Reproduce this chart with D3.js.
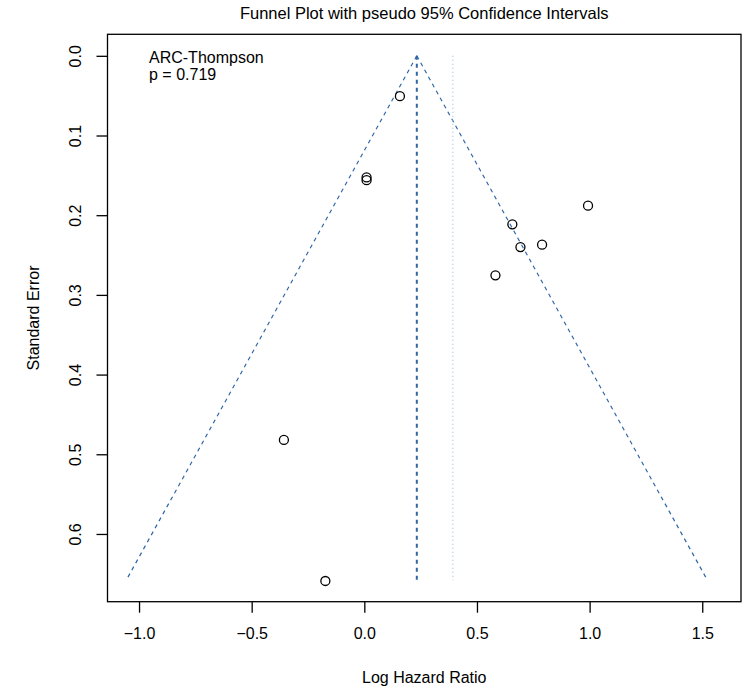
<!DOCTYPE html>
<html>
<head>
<meta charset="utf-8">
<script src="https://cdn.jsdelivr.net/npm/d3@7"></script>
<style>
  html, body { margin: 0; padding: 0; background: #fff; }
  svg { display: block; }
  text { font-family: "Liberation Sans", Arial, Helvetica, sans-serif; fill: #000; }
</style>
</head>
<body>
<svg id="chart" width="746" height="692"></svg>
<script>
// ---- data ----
const studyLogHR = [0.158, 0.010, 0.010, 0.993, 0.657, 0.693, 0.789, 0.582, -0.357, -0.173];
const studySE    = [0.0506, 0.1526, 0.156, 0.188, 0.2115, 0.240, 0.237, 0.2755, 0.482, 0.659];
const pooledEstimate = 0.233;   // centre of funnel
const referenceLine = 0.393;    // dotted line
const maxSE = 0.658;
const zCrit = 1.96;
const xTicks = [-1.0, -0.5, 0.0, 0.5, 1.0, 1.5];
const yTicks = [0.0, 0.1, 0.2, 0.3, 0.4, 0.5, 0.6];
const xLim = [-1.14, 1.672];
const yLim = [-0.027, 0.685];
const titleText = "Funnel Plot with pseudo 95% Confidence Intervals";
const xLabel = "Log Hazard Ratio";
const yLabel = "Standard Error";
const annotation = ["ARC-Thompson", "p = 0.719"];

// ---- layout ----
const svg = d3.select("#chart");
const L = 107.5, R = 741, T = 34.3, B = 601.7;
const x = d3.scaleLinear().domain(xLim).range([L, R]);
const y = d3.scaleLinear().domain(yLim).range([T, B]);
const blue = "#2f66a6";
const lightBlue = "#9dbfe0";
const fontFam = "'Liberation Sans', Arial, Helvetica, sans-serif";

// funnel lines
const funnel = [
  [[pooledEstimate, 0], [pooledEstimate - zCrit * maxSE, maxSE]],
  [[pooledEstimate, 0], [pooledEstimate + zCrit * maxSE, maxSE]]
];
const line = d3.line().x(d => x(d[0])).y(d => y(d[1]));
svg.selectAll("path.funnel").data(funnel).enter().append("path")
  .attr("class", "funnel")
  .attr("d", line)
  .attr("fill", "none").attr("stroke", blue).attr("stroke-width", 1.2)
  .attr("stroke-dasharray", "4,4");

// centre line (thicker dashed)
svg.append("path")
  .attr("d", line([[pooledEstimate, 0], [pooledEstimate, maxSE]]))
  .attr("stroke", blue).attr("stroke-width", 2).attr("fill", "none")
  .attr("stroke-dasharray", "4,4");

// reference dotted line
svg.append("path")
  .attr("d", line([[referenceLine, 0], [referenceLine, maxSE]]))
  .attr("stroke", lightBlue).attr("stroke-width", 1.2).attr("fill", "none")
  .attr("stroke-dasharray", "1,3");

// points
svg.selectAll("circle.pt").data(studyLogHR.map((v, i) => [v, studySE[i]])).enter()
  .append("circle").attr("class", "pt")
  .attr("cx", d => x(d[0])).attr("cy", d => y(d[1])).attr("r", 4.5)
  .attr("fill", "none").attr("stroke", "#000").attr("stroke-width", 1.3);

// box
svg.append("rect").attr("x", L).attr("y", T).attr("width", R - L).attr("height", B - T)
  .attr("fill", "none").attr("stroke", "#000").attr("stroke-width", 1.3);

// x axis
const gx = svg.append("g").attr("transform", `translate(0,${B})`)
  .call(d3.axisBottom(x).tickValues(xTicks).tickSize(11).tickPadding(0).tickFormat(d3.format(".1f")));
gx.select(".domain").remove();
gx.selectAll(".tick line").attr("stroke", "#000").attr("stroke-width", 1.3);
gx.selectAll(".tick text").attr("y", 37).attr("dy", null).style("font-size", "16px")
  .style("font-family", fontFam);

// y axis
const gy = svg.append("g").attr("transform", `translate(${L},0)`)
  .call(d3.axisLeft(y).tickValues(yTicks).tickSize(11).tickFormat(d3.format(".1f")));
gy.select(".domain").remove();
gy.selectAll(".tick line").attr("stroke", "#000").attr("stroke-width", 1.3);
gy.selectAll(".tick text")
  .attr("x", null).attr("dy", null)
  .attr("text-anchor", "middle")
  .attr("transform", "translate(-27,0) rotate(-90)")
  .attr("y", 0)
  .style("font-size", "16px")
  .style("font-family", fontFam);

// titles
svg.append("text").attr("x", (L + R) / 2).attr("y", 19).attr("text-anchor", "middle")
  .style("font-size", "16.5px").text(titleText);
svg.append("text").attr("x", (L + R) / 2).attr("y", 683).attr("text-anchor", "middle")
  .style("font-size", "16px").text(xLabel);
svg.append("text").attr("transform", `translate(39,${(T + B) / 2}) rotate(-90)`)
  .attr("text-anchor", "middle").style("font-size", "16px").text(yLabel);

// annotation
svg.selectAll("text.ann").data(annotation).enter().append("text").attr("class", "ann")
  .attr("x", 149).attr("y", (d, i) => 63 + i * 17)
  .style("font-size", "16px").text(d => d);
</script>
</body>
</html>
